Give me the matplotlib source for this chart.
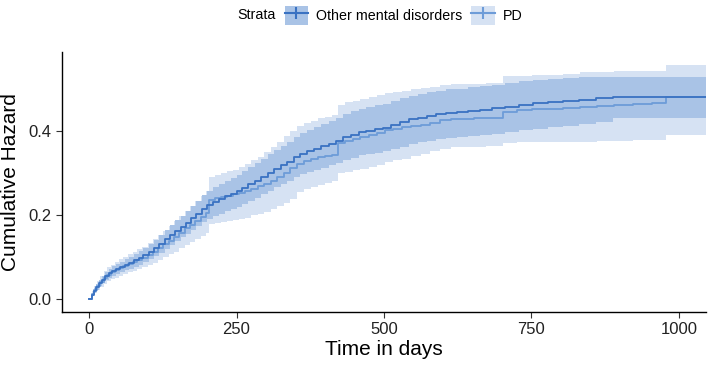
import numpy as np
import matplotlib
matplotlib.use("Agg")
import matplotlib.pyplot as plt
from matplotlib.patches import Patch
from matplotlib.lines import Line2D
from matplotlib.legend_handler import HandlerTuple

plt.rcParams['font.family'] = ['Liberation Sans', 'DejaVu Sans']

# Other mental disorders: time, cumulative hazard, lower / upper CI
t_other = [0, 4, 8, 12, 17, 22, 27, 33, 39, 46, 53, 60, 68, 76, 84, 92, 101, 110,
           119, 128, 137, 146, 155, 164, 173, 182, 191, 200, 210, 220, 230, 240,
           250, 260, 270, 281, 292, 303, 314, 325, 336, 347, 358, 370, 382, 394,
           406, 418, 431, 444, 457, 470, 484, 498, 512, 527, 542, 557, 573, 589,
           606, 624, 643, 663, 684, 706, 729, 753, 778, 804, 831, 859, 888, 1046]
h_other = [0.000, 0.010, 0.020, 0.029, 0.038, 0.046, 0.054, 0.061, 0.066, 0.071,
           0.076, 0.081, 0.086, 0.092, 0.098, 0.104, 0.112, 0.121, 0.131, 0.142,
           0.152, 0.162, 0.172, 0.182, 0.192, 0.203, 0.214, 0.224, 0.232, 0.238,
           0.245, 0.251, 0.257, 0.265, 0.273, 0.282, 0.291, 0.301, 0.310, 0.318,
           0.327, 0.338, 0.346, 0.352, 0.358, 0.364, 0.370, 0.377, 0.385, 0.391,
           0.397, 0.401, 0.404, 0.408, 0.414, 0.421, 0.428, 0.432, 0.436, 0.440,
           0.443, 0.445, 0.448, 0.451, 0.454, 0.458, 0.462, 0.466, 0.469, 0.472,
           0.475, 0.478, 0.480, 0.480]
lo_other = [0.000, 0.006, 0.014, 0.022, 0.030, 0.037, 0.044, 0.050, 0.055, 0.059,
            0.063, 0.068, 0.072, 0.077, 0.082, 0.087, 0.094, 0.102, 0.110, 0.120,
            0.129, 0.138, 0.147, 0.155, 0.164, 0.173, 0.183, 0.191, 0.198, 0.203,
            0.209, 0.214, 0.219, 0.226, 0.233, 0.241, 0.249, 0.258, 0.266, 0.273,
            0.281, 0.291, 0.298, 0.303, 0.308, 0.313, 0.318, 0.324, 0.331, 0.336,
            0.342, 0.345, 0.348, 0.352, 0.357, 0.363, 0.369, 0.373, 0.377, 0.380,
            0.383, 0.385, 0.388, 0.391, 0.394, 0.398, 0.402, 0.406, 0.409, 0.412,
            0.416, 0.422, 0.430, 0.430]
hi_other = [0.000, 0.015, 0.026, 0.036, 0.046, 0.055, 0.064, 0.072, 0.078, 0.084,
            0.089, 0.095, 0.101, 0.108, 0.115, 0.122, 0.131, 0.141, 0.152, 0.164,
            0.176, 0.187, 0.198, 0.210, 0.221, 0.234, 0.247, 0.258, 0.267, 0.274,
            0.282, 0.289, 0.296, 0.305, 0.314, 0.324, 0.334, 0.345, 0.355, 0.364,
            0.374, 0.386, 0.395, 0.402, 0.409, 0.416, 0.423, 0.431, 0.440, 0.447,
            0.453, 0.458, 0.461, 0.465, 0.471, 0.478, 0.484, 0.488, 0.492, 0.496,
            0.499, 0.501, 0.504, 0.507, 0.510, 0.514, 0.518, 0.521, 0.524, 0.526,
            0.528, 0.529, 0.529, 0.529]

# PD
t_pd = [0, 5, 9, 14, 19, 25, 31, 37, 44, 51, 58, 66, 74, 82, 90, 99, 108, 117,
        126, 135, 144, 153, 162, 171, 180, 189, 198, 204, 214, 224, 234, 244, 254,
        264, 275, 286, 297, 308, 319, 330, 341, 352, 364, 376, 388, 400, 412, 422,
        434, 447, 460, 474, 488, 502, 516, 531, 546, 562, 578, 595, 613, 632, 652,
        673, 695, 702, 726, 751, 777, 804, 832, 861, 891, 922, 954, 978, 1046]
h_pd = [0.000, 0.012, 0.021, 0.031, 0.040, 0.050, 0.058, 0.063, 0.068, 0.073,
        0.078, 0.083, 0.088, 0.093, 0.098, 0.105, 0.113, 0.121, 0.130, 0.139,
        0.148, 0.158, 0.168, 0.177, 0.186, 0.196, 0.205, 0.236, 0.240, 0.243,
        0.246, 0.249, 0.252, 0.257, 0.263, 0.268, 0.274, 0.281, 0.290, 0.300,
        0.312, 0.322, 0.328, 0.333, 0.337, 0.340, 0.344, 0.372, 0.377, 0.381,
        0.385, 0.390, 0.396, 0.403, 0.406, 0.409, 0.412, 0.415, 0.420, 0.426,
        0.428, 0.429, 0.430, 0.431, 0.432, 0.446, 0.450, 0.452, 0.453, 0.455,
        0.457, 0.460, 0.462, 0.464, 0.466, 0.480, 0.480]
lo_pd = [0.000, 0.006, 0.013, 0.021, 0.028, 0.036, 0.043, 0.047, 0.051, 0.055,
         0.059, 0.063, 0.067, 0.071, 0.075, 0.080, 0.086, 0.092, 0.099, 0.106,
         0.113, 0.121, 0.129, 0.136, 0.143, 0.151, 0.158, 0.178, 0.181, 0.183,
         0.186, 0.188, 0.190, 0.194, 0.199, 0.203, 0.208, 0.214, 0.221, 0.229,
         0.239, 0.255, 0.262, 0.267, 0.272, 0.276, 0.280, 0.300, 0.303, 0.306,
         0.310, 0.314, 0.320, 0.327, 0.330, 0.334, 0.340, 0.345, 0.352, 0.358,
         0.361, 0.362, 0.363, 0.364, 0.365, 0.372, 0.373, 0.374, 0.374, 0.375,
         0.375, 0.376, 0.377, 0.378, 0.379, 0.390, 0.390]
hi_pd = [0.000, 0.020, 0.031, 0.043, 0.054, 0.066, 0.076, 0.082, 0.088, 0.094,
         0.100, 0.106, 0.112, 0.118, 0.124, 0.133, 0.143, 0.152, 0.163, 0.174,
         0.185, 0.197, 0.209, 0.221, 0.233, 0.246, 0.258, 0.290, 0.296, 0.300,
         0.304, 0.308, 0.315, 0.322, 0.330, 0.339, 0.350, 0.362, 0.374, 0.387,
         0.400, 0.412, 0.419, 0.425, 0.430, 0.434, 0.438, 0.463, 0.468, 0.472,
         0.476, 0.480, 0.485, 0.490, 0.493, 0.496, 0.499, 0.502, 0.505, 0.510,
         0.511, 0.512, 0.513, 0.514, 0.515, 0.530, 0.532, 0.533, 0.534, 0.535,
         0.540, 0.541, 0.542, 0.543, 0.544, 0.557, 0.557]

strata = ["Other mental disorders", "PD"]
line_colors = ["#3a72c2", "#6d9cd8"]
band_colors = ["#a9c3e6", "#d6e2f3"]

fig = plt.figure(figsize=(7.08, 3.67), dpi=100)
ax = fig.add_axes([0.0876, 0.150, 0.9094, 0.708])

ax.fill_between(t_pd, lo_pd, hi_pd, step="post", color=band_colors[1], lw=0)
ax.fill_between(t_other, lo_other, hi_other, step="post", color=band_colors[0], lw=0)
ax.plot(t_pd, h_pd, drawstyle="steps-post", color=line_colors[1], lw=1.3)
ax.plot(t_other, h_other, drawstyle="steps-post", color=line_colors[0], lw=1.3)

ax.set_xlim(-46, 1046)
ax.set_ylim(-0.031, 0.588)
ax.set_xticks([0, 250, 500, 750, 1000])
ax.set_yticks([0.0, 0.2, 0.4])
ax.set_yticklabels(["0.0", "0.2", "0.4"])
ax.tick_params(labelsize=12, colors="#333333", length=4, width=0.8)
ax.tick_params(labelcolor="#222222")
for s in ["top", "right"]:
    ax.spines[s].set_visible(False)
for s in ["left", "bottom"]:
    ax.spines[s].set_linewidth(1.0)
    ax.spines[s].set_color("black")
ax.set_xlabel("Time in days", fontsize=15, labelpad=2)
ax.set_ylabel("Cumulative Hazard", fontsize=15, labelpad=6)

# legend on top: filled key with the line and a censor tick drawn over it
handles = []
for lc, bc in zip(line_colors, band_colors):
    handles.append((Patch(facecolor=bc, edgecolor="none"),
                    Line2D([], [], color=lc, lw=1.5, marker="|", markersize=9, markeredgewidth=1.5)))
fig.text(0.335, 0.958, "Strata", fontsize=10.3, ha="left", va="center")
fig.legend(handles, strata, loc="center left", bbox_to_anchor=(0.402, 0.958), ncol=2,
           frameon=False, fontsize=10.3, handler_map={tuple: HandlerTuple(ndivide=1, pad=0)},
           handlelength=1.65, handleheight=1.65, handletextpad=0.55, columnspacing=0.6,
           borderpad=0, borderaxespad=0)

fig.savefig("out.png", dpi=100)
